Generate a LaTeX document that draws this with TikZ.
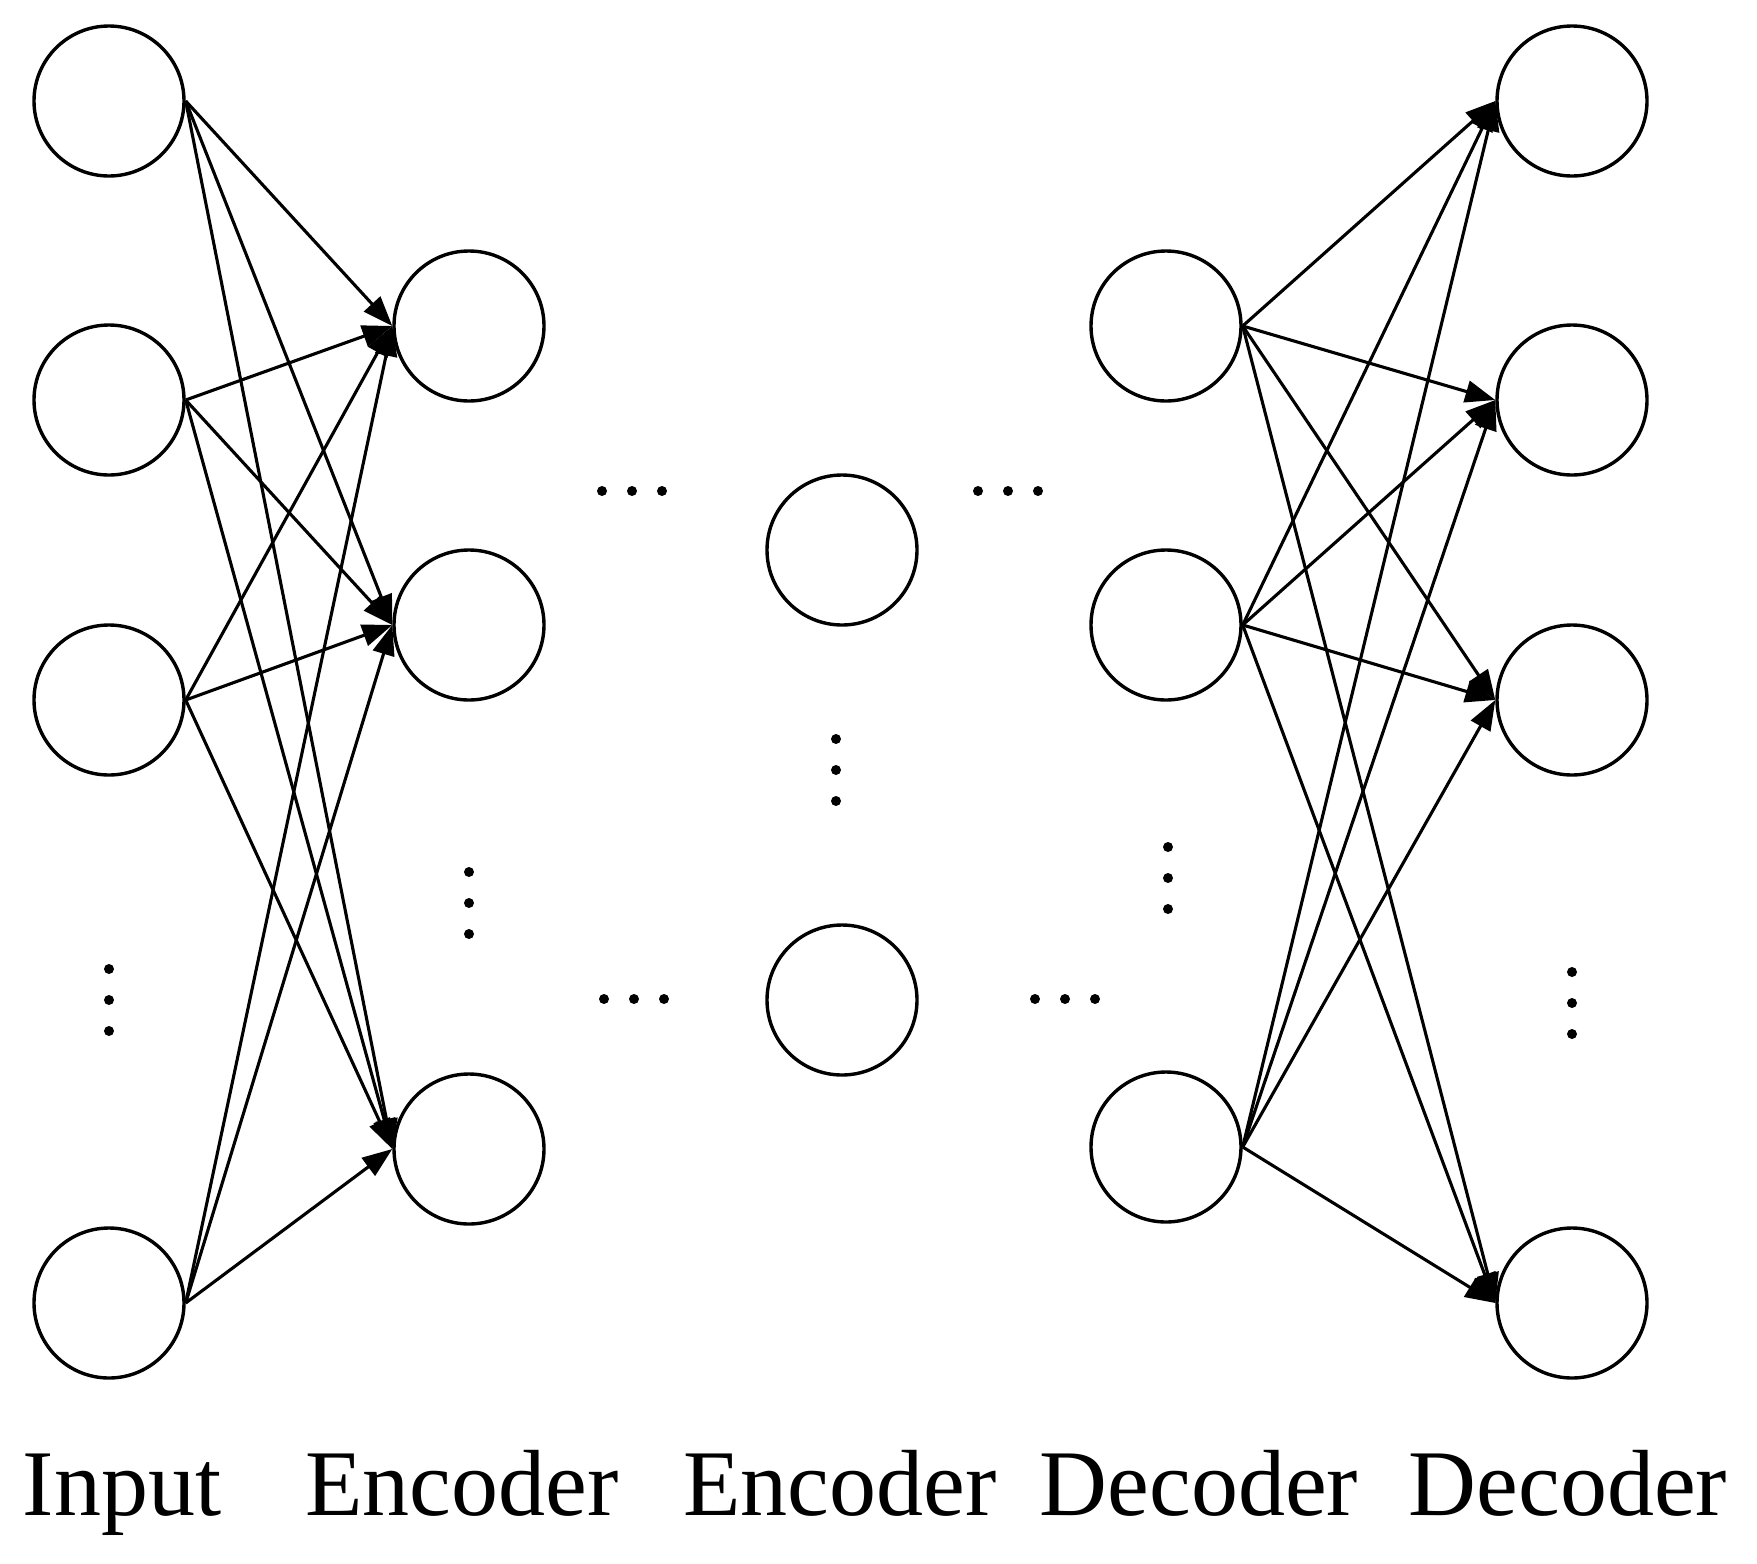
\documentclass[tikz,border=0pt]{standalone}
\usepackage{fontspec}
\setmainfont{Liberation Serif}
\usetikzlibrary{arrows.meta}
\begin{document}
\begin{tikzpicture}[x=1pt,y=-1pt,
  neuron/.style={circle,draw,line width=3.4pt,minimum size=150pt,inner sep=0pt},
  conn/.style={line width=3.1pt,-{Triangle[length=30pt,width=22pt]}},
  dotm/.style={circle,fill=black,inner sep=0pt,minimum size=10pt},
  lab/.style={font=\fontsize{94}{110}\selectfont,anchor=base}]
\useasboundingbox (0,0) rectangle (1757,1564);
% input layer
\node[neuron] (i1) at (109,101) {};
\node[neuron] (i2) at (109,400) {};
\node[neuron] (i3) at (109,700) {};
\node[neuron] (i4) at (109,1303) {};
% encoder layer
\node[neuron] (e1) at (469,326) {};
\node[neuron] (e2) at (469,625) {};
\node[neuron] (e3) at (469,1149) {};
% middle
\node[neuron] (m1) at (842,550) {};
\node[neuron] (m2) at (842,1000) {};
% decoder layer
\node[neuron] (d1) at (1166,326) {};
\node[neuron] (d2) at (1166,625) {};
\node[neuron] (d3) at (1166,1147) {};
% output
\node[neuron] (o1) at (1572,101) {};
\node[neuron] (o2) at (1572,400) {};
\node[neuron] (o3) at (1572,700) {};
\node[neuron] (o4) at (1572,1303) {};
% connections
\foreach \a in {i1,i2,i3,i4}{
  \foreach \b in {e1,e2,e3}{
    \draw[conn] (\a.east) -- (\b.west);
  }
}
\foreach \a in {d1,d2,d3}{
  \foreach \b in {o1,o2,o3,o4}{
    \draw[conn] (\a.east) -- (\b.west);
  }
}
% vertical dots
\foreach \x/\y/\n in {109/1000/vi,469/903/ve,836/770/vm,1168/878/vd,1572/1003/vo}{
  \node[dotm] (\n a) at (\x,\y-31) {};
  \node[dotm] (\n b) at (\x,\y) {};
  \node[dotm] (\n c) at (\x,\y+31) {};
}
% horizontal dots
\foreach \x/\y/\n in {632/491/hA,1008/491/hB,634/999/hC,1065/999/hD}{
  \node[dotm] (\n a) at (\x-30,\y) {};
  \node[dotm] (\n b) at (\x,\y) {};
  \node[dotm] (\n c) at (\x+30,\y) {};
}
% labels
\node[lab] (l1) at (122,1515) {Input};
\node[lab] (l2) at (462,1515) {Encoder};
\node[lab] (l3) at (840,1515) {Encoder};
\node[lab] (l4) at (1199,1515) {Decoder};
\node[lab] (l5) at (1568,1515) {Decoder};
\end{tikzpicture}
\end{document}
